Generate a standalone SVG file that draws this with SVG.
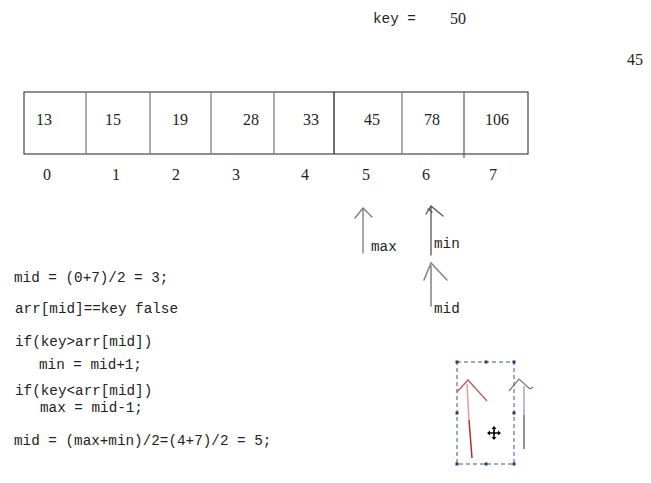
<svg xmlns="http://www.w3.org/2000/svg" width="651" height="483" viewBox="0 0 651 483">
<style>
.m{font-family:"Liberation Mono","DejaVu Sans Mono",monospace;font-size:14.3px;fill:#222}
.n{font-family:"Liberation Serif","DejaVu Serif",serif;font-size:16px;fill:#222}
.box{fill:none;stroke:#444;stroke-width:1.2}
.div{stroke:#808080;stroke-width:1.3}
.ar{fill:none;stroke:#7a7a7a;stroke-width:1.3;stroke-linecap:round}
.h{fill:#1f3a6e}
</style>
<rect width="651" height="483" fill="#fff"/>
<g id="key">
<text class="m" x="373" y="23">key =</text>
<text class="n" x="450" y="24">50</text>
<text class="n" x="627" y="65">45</text>
</g>
<g id="array">
<rect class="box" x="24" y="92" width="504" height="62"/>
<line class="div" x1="86" y1="92" x2="86" y2="154"/>
<line class="div" x1="150" y1="92" x2="150" y2="154"/>
<line class="div" x1="211" y1="92" x2="211" y2="154"/>
<line class="div" x1="274" y1="92" x2="274" y2="154"/>
<line class="div" x1="334" y1="92" x2="334" y2="154" style="stroke:#222"/>
<line class="div" x1="402" y1="92" x2="402" y2="154"/>
<line class="div" x1="464" y1="92" x2="464" y2="158" style="stroke:#666"/>
<g id="cells">
<text class="n" x="36" y="125">13</text>
<text class="n" x="105" y="125">15</text>
<text class="n" x="172" y="125">19</text>
<text class="n" x="243" y="125">28</text>
<text class="n" x="303" y="125">33</text>
<text class="n" x="364" y="125">45</text>
<text class="n" x="424" y="125">78</text>
<text class="n" x="485" y="125">106</text>
</g>
<g id="indices">
<text class="n" x="43" y="180">0</text>
<text class="n" x="112" y="180">1</text>
<text class="n" x="172" y="180">2</text>
<text class="n" x="232" y="180">3</text>
<text class="n" x="301" y="180">4</text>
<text class="n" x="362" y="180">5</text>
<text class="n" x="422" y="180">6</text>
<text class="n" x="489" y="180">7</text>
</g>
</g>
<g id="connectors">
<g id="max-arrow">
<path class="ar" d="M363 253V209M355 218L363 208L372 217"/>
<text class="m" x="371" y="251">max</text>
</g>
<g id="min-arrow">
<path class="ar" d="M431 255V207M426 214L431 206L443 216M428 209L432 212" style="stroke:#555"/>
<text class="m" x="434" y="248">min</text>
</g>
<g id="mid-arrow">
<path class="ar" d="M431 306V266M424 280L431 263L447 280" style="stroke-width:1.6;stroke:#888"/>
<text class="m" x="434" y="313">mid</text>
</g>
</g>
<g id="code">
<text class="m" x="14" y="282">mid = (0+7)/2 = 3;</text>
<text class="m" x="15" y="313">arr[mid]==key false</text>
<text class="m" x="15" y="346">if(key&gt;arr[mid])</text>
<text class="m" x="39" y="369">min = mid+1;</text>
<text class="m" x="15" y="395">if(key&lt;arr[mid])</text>
<text class="m" x="40" y="412">max = mid-1;</text>
<text class="m" x="14" y="445">mid = (max+min)/2=(4+7)/2 = 5;</text>
</g>
<g id="sketch">
<rect x="457" y="362" width="57" height="102" fill="none" stroke="#3a5580" stroke-width="1" stroke-dasharray="4 3"/>
<rect class="h" x="455.5" y="360.5" width="3" height="3"/>
<rect class="h" x="484.5" y="360.5" width="3" height="3"/>
<rect class="h" x="512.5" y="360.5" width="3" height="3"/>
<rect class="h" x="455.5" y="411.5" width="3" height="3"/>
<rect class="h" x="512.5" y="411.5" width="3" height="3"/>
<rect class="h" x="455.5" y="462.5" width="3" height="3"/>
<rect class="h" x="484.5" y="462.5" width="3" height="3"/>
<rect class="h" x="512.5" y="462.5" width="3" height="3"/>
<path d="M467 384L469 420" fill="none" stroke="#e0a0a0" stroke-width="1.5"/>
<path d="M469 420L472 458" fill="none" stroke="#b03030" stroke-width="1.5"/>
<path d="M457 392L468 380L487 401" fill="none" stroke="#c05050" stroke-width="1.2"/>
<path d="M524 386V415" fill="none" stroke="#aaa" stroke-width="1.5"/>
<path d="M524 415V449" fill="none" stroke="#555" stroke-width="1.3"/>
<path d="M509 391L519 379L530 389" fill="none" stroke="#777" stroke-width="1.2"/>
<path d="M530 389L533 387" fill="none" stroke="#c05050" stroke-width="1.2"/>
<g id="move-cursor" transform="translate(494 433)">
<path d="M0 -6V6M-6 0H6" stroke="#000" stroke-width="1.6"/>
<path d="M0 -7L-2.5 -4H2.5ZM0 7L-2.5 4H2.5ZM-7 0L-4 -2.5V2.5ZM7 0L4 -2.5V2.5Z" fill="#000"/>
</g>
</g>
</svg>
